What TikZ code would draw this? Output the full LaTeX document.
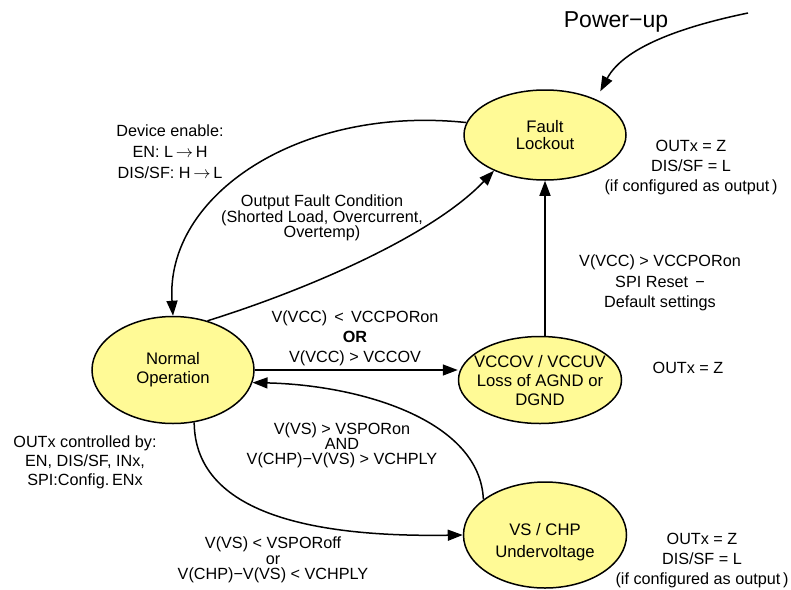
\documentclass[tikz,border=0pt]{standalone}
\usepackage{fontspec}
\setmainfont{Liberation Sans}
\usetikzlibrary{shapes.geometric,arrows.meta}
\definecolor{stateyel}{RGB}{255,250,150}
\newcommand{\rarr}{\,$\rightarrow$\,}
\begin{document}
\begin{tikzpicture}[x=1pt,y=-1pt,
  state/.style={ellipse,draw=black,line width=1.5pt,fill=stateyel,inner sep=0pt},
  stxt/.style={align=center,inner sep=0pt,font=\fontsize{16.7}{#1}\selectfont},
  stxt/.default=19,
  lbl/.style={align=center,inner sep=0pt,font=\fontsize{16.2}{#1}\selectfont},
  lbl/.default=20,
  conn/.style={line width=1.5pt,-{Triangle[length=15pt,width=11pt]}}
]
\useasboundingbox (0,0) rectangle (791,589);

% states
\node[state,minimum width=162pt,minimum height=90pt,
  label={[name=flt,stxt=17.5]center:{Fault\\Lockout}}] (fl) at (545,135) {};
\node[state,minimum width=162pt,minimum height=107pt,
  label={[name=not,stxt=19]center:{Normal\\Operation}}] (no) at (173,370) {};
\node[state,minimum width=163pt,minimum height=87pt,
  label={[name=vct,stxt=19,yshift=-1pt]center:{VCCOV / VCCUV\\Loss of AGND or\\DGND}}] (vc) at (540,380) {};
\node[state,minimum width=163pt,minimum height=106pt,
  label={[name=vst,stxt=22,yshift=-7pt]center:{VS / CHP\\Undervoltage}}] (vs) at (545,535) {};

% power-up
\coordinate (pu) at (748,13);
\node[inner sep=0pt,font=\fontsize{23}{27}\selectfont] (put) at (616,22) {Power−up};
\draw[conn,shorten >=9pt] (pu) .. controls (690,25) and (625,45) .. (fl.35);

% connectors
\draw[conn] (fl.171) .. controls (300,105) and (165,195) .. (no.90);
\draw[conn] (no.55) .. controls (300,292) and (430,238) .. (fl.215);
\draw[conn] (no.east) -- (no.east -| vc.west);
\draw[conn] (vs.150) .. controls (480,420) and (360,385) .. (no.-9);
\draw[conn] (no.-68) .. controls (195,520) and (330,537) .. (vs.west);
\draw[conn] (fl.south |- vc.north) -- (fl.south);

% labels
\node[lbl=21] (dev) at (170,152) {Device enable:\\EN: L\rarr H\\DIS/SF: H\rarr L};
\node[lbl=15.5] (ofc) at (322,218) {Output Fault Condition\\(Shorted Load, Overcurrent,\\Overtemp)};
\node[lbl=20] (vccpor) at (355,338) {V(VCC) \,<\, VCCPORon\\\textbf{OR}\\V(VCC) > VCCOV};
\node[lbl=15] (vspon) at (342,445) {V(VS) > VSPORon\\AND\\V(CHP)−V(VS) > VCHPLY};
\node[lbl=15.5] (vspoff) at (273,560) {V(VS) < VSPORoff\\or\\V(CHP)−V(VS) < VCHPLY};
\node[lbl=19] (outc) at (85,462) {OUTx controlled by:\\EN, DIS/SF, INx,\\SPI:Config.\,ENx};
\node[lbl=20] (flo) at (691,168) {OUTx = Z\\DIS/SF = L\\(if configured as output\,)};
\node[lbl=20.5] (rst) at (660,283) {V(VCC) > VCCPORon\\SPI Reset \,−\\Default settings};
\node[lbl] (vco) at (688,368) {OUTx = Z};
\node[lbl=20] (vso) at (702,561) {OUTx = Z\\DIS/SF = L\\(if configured as output\,)};
\end{tikzpicture}
\end{document}
